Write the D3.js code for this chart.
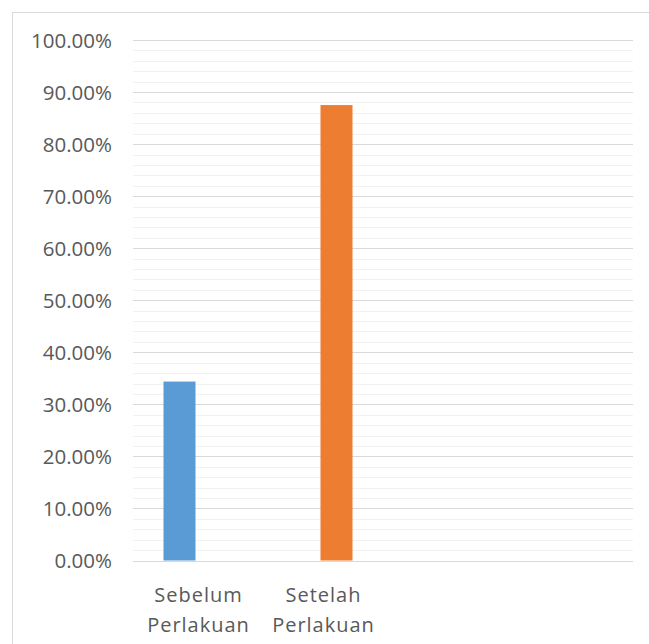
<!DOCTYPE html>
<html>
<head>
<meta charset="utf-8">
<script src="https://cdnjs.cloudflare.com/ajax/libs/d3/7.8.5/d3.min.js"></script>
<style>
  body { margin: 0; background: #fff; }
  text { font-family: "Open Sans", "Noto Sans", sans-serif; fill: #595959; }
</style>
</head>
<body>
<svg id="chart" width="649" height="644"></svg>
<script>
// categories (Excel left two empty slots on the axis)
const categories = ["Sebelum Perlakuan", "Setelah Perlakuan", "", ""];
const seriesNames = ["Sebelum", "Setelah"];
// each series only has a value in its own category
const sebelum = [0.3438, null, null, null];
const setelah = [null, 0.875, null, null];
const colors = ["#5b9bd5", "#ed7d31"];
const yTicks = [0, 0.1, 0.2, 0.3, 0.4, 0.5, 0.6, 0.7, 0.8, 0.9, 1.0];
const minorTicks = d3.range(0, 1.0001, 0.02);

const svg = d3.select("#chart");
const margin = { top: 40, left: 133, right: 16, bottom: 83.5 };
const width = 649 - margin.left - margin.right;
const height = 644 - margin.top - margin.bottom;

// outer chart border (runs off the page on the right and bottom)
svg.append("rect")
  .attr("x", 12.5).attr("y", 12.5)
  .attr("width", 700).attr("height", 700)
  .attr("fill", "none")
  .attr("stroke", "#d9d9d9");

const g = svg.append("g").attr("transform", `translate(${margin.left},${margin.top})`);

const x = d3.scaleBand().domain(d3.range(categories.length)).range([0, width]);
const xs = d3.scaleBand().domain(seriesNames).range([x.bandwidth() / 2 - 32, x.bandwidth() / 2 + 32]);
const y = d3.scaleLinear().domain([0, 1]).range([height, 0]);

// minor gridlines
g.append("g").selectAll("line")
  .data(minorTicks)
  .join("line")
  .attr("x1", 0).attr("x2", width)
  .attr("y1", d => Math.round(y(d)) + 0.5)
  .attr("y2", d => Math.round(y(d)) + 0.5)
  .attr("stroke", "#f2f2f2");

// major gridlines
g.append("g").selectAll("line")
  .data(yTicks)
  .join("line")
  .attr("x1", 0).attr("x2", width)
  .attr("y1", d => Math.round(y(d)) + 0.5)
  .attr("y2", d => Math.round(y(d)) + 0.5)
  .attr("stroke", "#d9d9d9");

// bars
const series = [sebelum, setelah];
series.forEach((vals, si) => {
  g.append("g").selectAll("rect")
    .data(vals.map((v, i) => ({ v, i })).filter(d => d.v != null))
    .join("rect")
    .attr("x", d => x(d.i) + xs(seriesNames[si]))
    .attr("width", xs.bandwidth())
    .attr("y", d => y(d.v))
    .attr("height", d => y(0) - y(d.v))
    .attr("fill", colors[si]);
});

// y axis
const yAxis = g.append("g")
  .call(d3.axisLeft(y).tickValues(yTicks).tickFormat(d3.format(".2%")).tickSize(0).tickPadding(21));
yAxis.select(".domain").remove();
yAxis.selectAll("text")
  .attr("font-size", 20.5)
  .attr("dy", "0.36em");

// x axis labels (two lines)
const xAxis = g.append("g")
  .attr("transform", `translate(3,${height})`)
  .call(d3.axisBottom(x).tickFormat(i => categories[i]).tickSize(0));
xAxis.select(".domain").remove();
xAxis.selectAll("text")
  .attr("font-size", 20)
  .attr("letter-spacing", 1)
  .attr("dy", null)
  .each(function (i) {
    const t = d3.select(this);
    const words = categories[i].split(" ");
    t.text(null).attr("y", 0);
    words.forEach((w, k) => {
      t.append("tspan")
        .attr("x", 0)
        .attr("y", 41.5 + k * 30)
        .text(w);
    });
  });
</script>
</body>
</html>
